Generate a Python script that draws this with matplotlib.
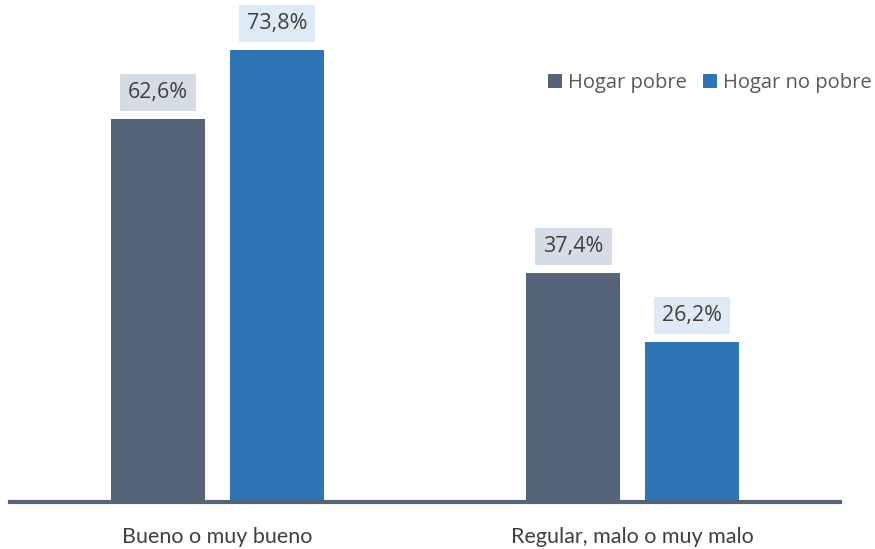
import numpy as np
import matplotlib.pyplot as plt

categories = ['Bueno o muy bueno', 'Regular, malo o muy malo']
series = ['Hogar pobre', 'Hogar no pobre']
pobre = [62.6, 37.4]
no_pobre = [73.8, 26.2]

bar_colors = ['#56647a', '#2e75b6']
box_colors = ['#d6dce5', '#deebf7']

fig = plt.figure(figsize=(8.75, 5.49), dpi=100)
ax = fig.add_axes([0.0114, 0.0856, 0.949, 0.9144])

x = np.arange(len(categories))
w = 0.226
off = 0.143

for vals, sign, col, bcol, name in zip([pobre, no_pobre], [-1, 1], bar_colors, box_colors, series):
    bars = ax.bar(x + sign * off, vals, width=w, color=col, label=name, zorder=2)
    for b, v in zip(bars, vals):
        ax.annotate(f'{v:.1f}%'.replace('.', ','),
                    (b.get_x() + b.get_width() / 2, v),
                    xytext=(0, 19), textcoords='offset points',
                    ha='center', va='center', fontsize=15.5,
                    family='Open Sans', color='#404040',
                    bbox=dict(boxstyle='square,pad=0.38', fc=bcol, ec='none'))

ax.set_xlim(-0.5, 1.5)
ax.set_ylim(0, 82)
ax.set_yticks([])
ax.set_xticks(x)
ax.set_xticklabels(categories, fontsize=15.5, family='Lato', color='#404040')
ax.tick_params(axis='x', length=0, pad=18)
for s in ['top', 'right', 'left']:
    ax.spines[s].set_visible(False)
ax.spines['bottom'].set_color('#56647a')
ax.spines['bottom'].set_linewidth(3)
ax.patch.set_alpha(0)

leg = ax.legend(loc='upper right', bbox_to_anchor=(1.06, 0.89), ncol=2, frameon=False,
                prop={'family': 'Open Sans', 'size': 14.5}, handlelength=0.7,
                handleheight=0.7, handletextpad=0.3, columnspacing=0.8)
for t in leg.get_texts():
    t.set_color('#595959')

fig.savefig('out.png', dpi=100)
